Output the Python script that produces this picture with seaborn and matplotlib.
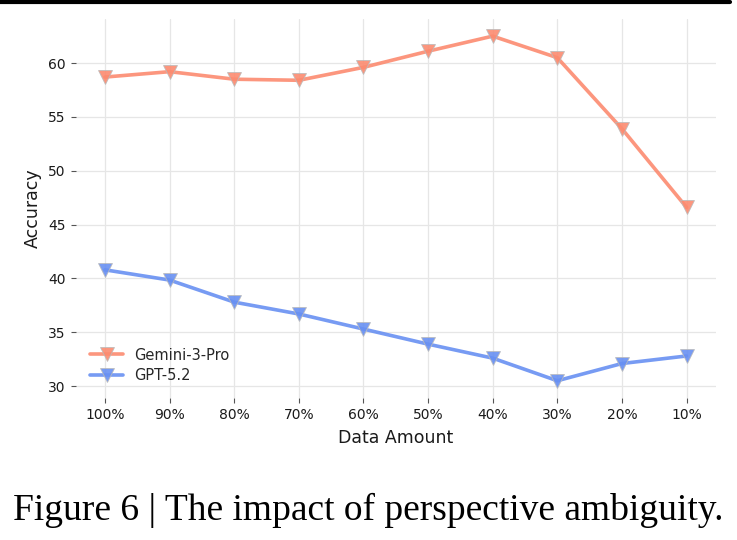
import pandas as pd
import seaborn as sns
import matplotlib.pyplot as plt
from matplotlib.lines import Line2D

# Data
data_amount = ['100%', '90%', '80%', '70%', '60%', '50%', '40%', '30%', '20%', '10%']
gemini_acc = [58.7, 59.2, 58.5, 58.4, 59.6, 61.1, 62.5, 60.5, 53.9, 46.6]
gpt_acc = [40.8, 39.85, 37.8, 36.7, 35.3, 33.9, 32.6, 30.5, 32.1, 32.8]

df = pd.DataFrame({
    'Data Amount': data_amount * 2,
    'Accuracy': gemini_acc + gpt_acc,
    'Model': ['Gemini-3-Pro'] * len(data_amount) + ['GPT-5.2'] * len(data_amount),
})

sns.set_style('whitegrid')
plt.rcParams['font.family'] = ['DejaVu Sans']

fig = plt.figure(figsize=(7.37, 5.40), dpi=100)
ax = fig.add_axes([0.103, 0.263, 0.868, 0.702])

palette = {'Gemini-3-Pro': '#fc8b70', 'GPT-5.2': '#6890f2'}
sns.lineplot(data=df, x='Data Amount', y='Accuracy', hue='Model', palette=palette,
             marker='v', markersize=10, linewidth=2.6, markeredgecolor='#bbbbbb',
             markeredgewidth=0.6, alpha=0.9, sort=False, ax=ax)

for s in ax.spines.values():
    s.set_visible(False)
ax.grid(True, color='#e6e6e6', linewidth=0.9)
ax.tick_params(axis='both', which='both', length=3.5, width=0.8, color='#555555',
               labelsize=10, labelcolor='#1a1a1a', pad=4, bottom=True, left=True)
ax.set_xlabel('Data Amount', fontsize=12.5, labelpad=5, color='#1a1a1a')
ax.set_ylabel('Accuracy', fontsize=12.5, labelpad=4, color='#1a1a1a')
ax.set_yticks([30, 35, 40, 45, 50, 55, 60])

leg = ax.legend(loc='lower left', frameon=False, fontsize=10.5, handlelength=2.2,
                borderaxespad=0.6, labelspacing=0.4)

# page elements from the paper screenshot
fig.add_artist(Line2D([0, 0.99], [0.996, 0.996], transform=fig.transFigure,
                      color='black', linewidth=3))
fig.text(0.5, 0.055, 'Figure 6 | The impact of perspective ambiguity.',
         ha='center', va='center', fontsize=27, color='black',
         family='Liberation Serif')

fig.savefig('out.png', dpi=100)
